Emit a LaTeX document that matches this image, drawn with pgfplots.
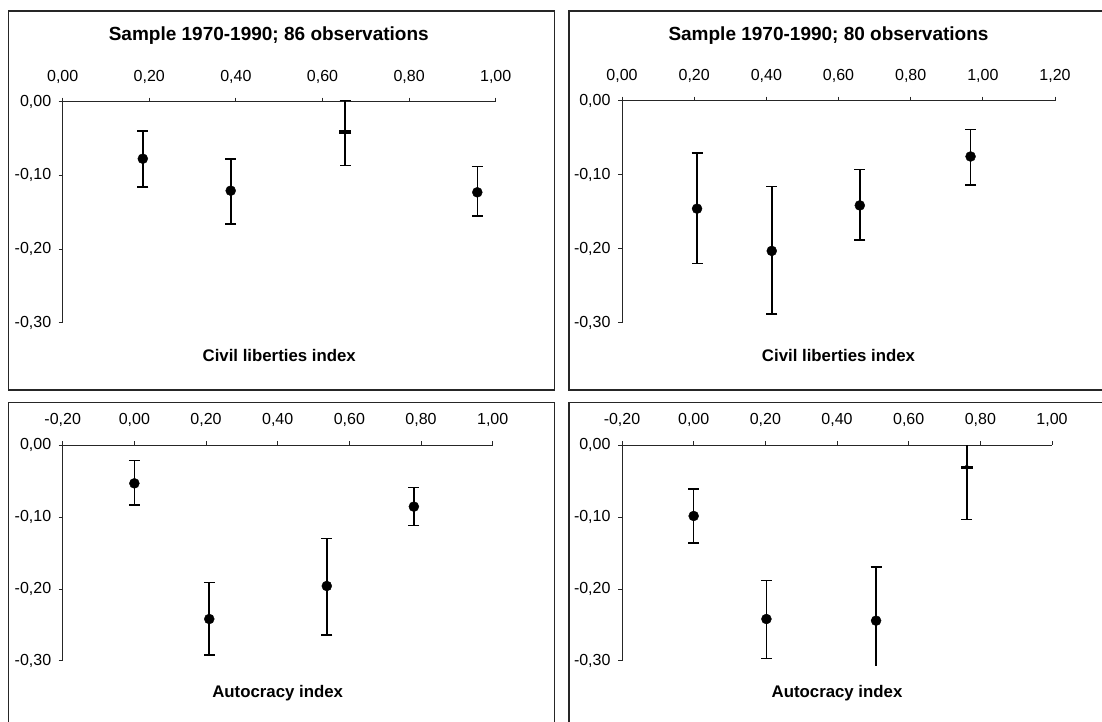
\documentclass[border=0pt]{standalone}
\usepackage{fontspec}
\setmainfont{Liberation Sans}
\usepackage{pgfplots}
\pgfplotsset{compat=1.18}

% one panel of the 2x2 figure (1 px of the reference = 1 pt)
\pgfplotsset{
  panel/.style={
    scale only axis, anchor=south west,
    axis x line=top, axis y line=left,
    axis line style={-, black!85, line width=1pt},
    tick align=outside, major tick length=4pt,
    tick style={black!85, line width=1pt},
    ymin=-0.3, ymax=0, ytick={-0.3,-0.2,-0.1,0},
    xtick distance=0.2,
    clip=false,
    /pgf/number format/.cd, fixed, fixed zerofill, precision=2, use comma, assume math mode=true,
    /pgfplots/.cd,
    tick label style={font=\fontsize{16}{18}\selectfont},
    xticklabel style={yshift=11pt},
    yticklabel style={xshift=-4pt},
  },
  errs/.style={
    error bars/y explicit,
    error bars/error bar style={black, line width=1.6pt},
    error bars/error mark options={rotate=90, black, mark size=5.5pt, line width=1.6pt},
  },
  dot/.style={only marks, mark=*, mark size=5pt, black, errs, error bars/y dir=both},
  dash/.style={only marks, mark=-, mark size=6pt, black, mark options={line width=3.5pt}, errs},
}
\newcommand{\xlab}[1]{\node[font=\fontsize{16.8}{18}\selectfont\bfseries] at (rel axis cs:0.5,-0.148) {#1};}

\begin{document}
\begin{tikzpicture}
\useasboundingbox (0pt,0pt) rectangle (1102pt,722pt);
% panel frames
\draw[black!85, line width=1.2pt] (8.3pt,332pt) rectangle (554.3pt,711pt);
\draw[black!85, line width=1.2pt] (569pt,332pt) rectangle (1120pt,711pt);
\draw[black!85, line width=1.2pt] (8.3pt,-20pt) rectangle (554.3pt,319.7pt);
\draw[black!85, line width=1.2pt] (569pt,-20pt) rectangle (1120pt,319.7pt);

% top left: civil liberties, 86 observations
\begin{axis}[panel, at={(62.7pt,399.3pt)}, width=433pt, height=221pt, xmin=0, xmax=1]
\addplot[dot] table[x=x, y=y, y error plus=ep, y error minus=em] {
x      y       ep      em
0.185  -0.0774 0.0380  0.0388
0.388  -0.1208 0.0426  0.0452
0.9575 -0.1230 0.0348  0.0320
};
\addplot[dash, error bars/y dir=both] table[x=x, y=y, y error plus=ep, y error minus=em] {
x      y       ep      em
0.652  -0.0411 0.0425  0.0453
};
\xlab{Civil liberties index}
\end{axis}

% top right: civil liberties, 80 observations
\begin{axis}[panel, at={(622pt,399.3pt)}, width=433pt, height=222pt, xmin=0, xmax=1.2]
\addplot[dot] table[x=x, y=y, y error plus=ep, y error minus=em] {
x      y       ep      em
0.208  -0.1459 0.0749  0.0741
0.415  -0.2030 0.0871  0.0853
0.659  -0.1415 0.0485  0.0465
0.966  -0.0754 0.0367  0.0382
};
\xlab{Civil liberties index}
\end{axis}

% bottom left: autocracy, 86 observations
\begin{axis}[panel, at={(62.7pt,61pt)}, width=430pt, height=215.7pt, xmin=-0.2, xmax=1]
\addplot[dot] table[x=x, y=y, y error plus=ep, y error minus=em] {
x      y       ep      em
0.000  -0.0529 0.0315  0.0301
0.209  -0.2416 0.0506  0.0501
0.537  -0.1957 0.0659  0.0681
0.780  -0.0853 0.0264  0.0264
};
\xlab{Autocracy index}
\end{axis}

% bottom right: autocracy, 80 observations
\begin{axis}[panel, at={(622pt,61pt)}, width=430pt, height=215.7pt, xmin=-0.2, xmax=1]
\addplot[dot] table[x=x, y=y, y error plus=ep, y error minus=em] {
x      y       ep      em
0.000  -0.0983 0.0371  0.0376
0.203  -0.2416 0.0533  0.0547
};
% whisker cut at the bottom of the plot area
\addplot[dot, error bars/y dir=plus] table[x=x, y=y, y error plus=ep] {
x      y       ep
0.509  -0.2439 0.0747
};
\addplot[only marks, mark=none, errs, error bars/y dir=minus, error bars/error mark=none] table[x=x, y=y, y error minus=em] {
x      y       em
0.509  -0.2439 0.0631
};
% whisker cut at the top of the plot area
\addplot[dash, error bars/y dir=minus] table[x=x, y=y, y error minus=em] {
x      y       em
0.762  -0.0306 0.0728
};
\addplot[only marks, mark=none, errs, error bars/y dir=plus, error bars/error mark=none] table[x=x, y=y, y error plus=ep] {
x      y       ep
0.762  -0.0306 0.0306
};
\xlab{Autocracy index}
\end{axis}

% chart titles
\node[font=\fontsize{19}{21}\selectfont\bfseries] at (268.8pt,686pt) {Sample 1970-1990; 86 observations};
\node[font=\fontsize{19}{21}\selectfont\bfseries] at (828.5pt,686pt) {Sample 1970-1990; 80 observations};
\end{tikzpicture}
\end{document}
